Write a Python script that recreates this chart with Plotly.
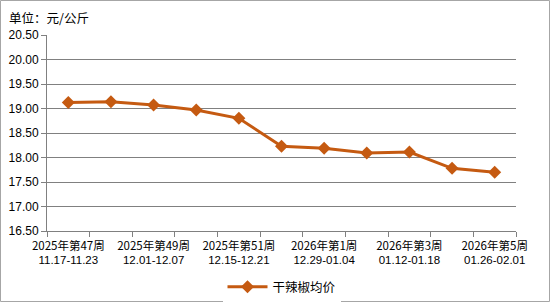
import plotly.graph_objects as go

weeks = ["2025年第47周", "2025年第48周", "2025年第49周", "2025年第50周", "2025年第51周", "2025年第52周",
         "2026年第1周", "2026年第2周", "2026年第3周", "2026年第4周", "2026年第5周"]
dates = ["11.17-11.23", "11.24-11.30", "12.01-12.07", "12.08-12.14", "12.15-12.21", "12.22-12.28",
         "12.29-01.04", "01.05-01.11", "01.12-01.18", "01.19-01.25", "01.26-02.01"]
values = [19.12, 19.14, 19.07, 18.97, 18.80, 18.23, 18.19, 18.09, 18.11, 17.78, 17.70]
series_name = "干辣椒均价"
y_ticks = [16.5, 17.0, 17.5, 18.0, 18.5, 19.0, 19.5, 20.0, 20.5]

W, H = 550, 302
L, R, T, B = 47, 34, 35, 71
pw, ph = W - L - R, H - T - B

xs = list(range(len(weeks)))
color = "#C55A11"
font = "Noto Sans CJK SC"
dfont = "Liberation Sans"
grid = "#808080"

fig = go.Figure()
fig.add_trace(go.Scatter(
    x=xs, y=values, mode="lines+markers", name=series_name,
    line=dict(color=color, width=3),
    marker=dict(symbol="diamond", size=10, color=color),
))
# invisible helper trace so the second-line date axis is drawn
fig.add_trace(go.Scatter(x=xs, y=values, xaxis="x2", mode="lines", opacity=0,
                         showlegend=False, hoverinfo="skip"))

fig.update_layout(
    width=W, height=H,
    margin=dict(l=L, r=R, t=T, b=B, autoexpand=False),
    paper_bgcolor="white", plot_bgcolor="white",
    font=dict(family=font, size=11, color="#000000"),
    showlegend=True,
    legend=dict(orientation="h", x=0.5, xanchor="center", y=-(287 - (T + ph)) / ph, yanchor="middle",
                font=dict(size=12.5, family=font), itemwidth=40),
    annotations=[dict(text="单位：元/公斤", xref="paper", yref="paper",
                      x=-(L - 7) / pw, y=1 + 18 / ph, xanchor="left", yanchor="middle",
                      showarrow=False, font=dict(size=12.5, family=font))],
    shapes=[dict(type="rect", xref="paper", yref="paper",
                 x0=-(L - 0.5) / pw, x1=1 + (R - 0.5) / pw,
                 y0=-(B - 0.5) / ph, y1=1 + (T - 0.5) / ph,
                 line=dict(color="#A6A6A6", width=1), layer="below")],
    xaxis=dict(
        range=[-0.5, len(weeks) - 0.5], automargin=False,
        tickmode="array", tickvals=xs[::2], ticktext=weeks[::2],
        ticks="", showgrid=False, zeroline=False,
        showline=True, linecolor=grid, linewidth=1,
        ticklabelstandoff=4,
        tickfont=dict(size=11.5, family=font),
        minor=dict(tickmode="linear", tick0=-0.5, dtick=1, ticks="outside",
                   ticklen=5, tickcolor=grid, showgrid=False),
    ),
    xaxis2=dict(overlaying="x", anchor="y", side="bottom", automargin=False,
                range=[-0.5, len(weeks) - 0.5],
                tickmode="array", tickvals=xs[::2], ticktext=dates[::2],
                ticks="", showgrid=False, zeroline=False, showline=False,
                ticklabelstandoff=20, tickfont=dict(size=11.5, family=dfont)),
    yaxis=dict(
        range=[y_ticks[0], y_ticks[-1]], automargin=False,
        tickmode="array", tickvals=y_ticks, ticktext=[f"{v:.2f}" for v in y_ticks],
        ticks="outside", ticklen=5, tickcolor=grid,
        showgrid=True, gridcolor=grid, gridwidth=1, zeroline=False,
        showline=True, linecolor=grid, linewidth=1,
        tickfont=dict(size=12, family=dfont),
    ),
)

fig.write_html("out.html")
